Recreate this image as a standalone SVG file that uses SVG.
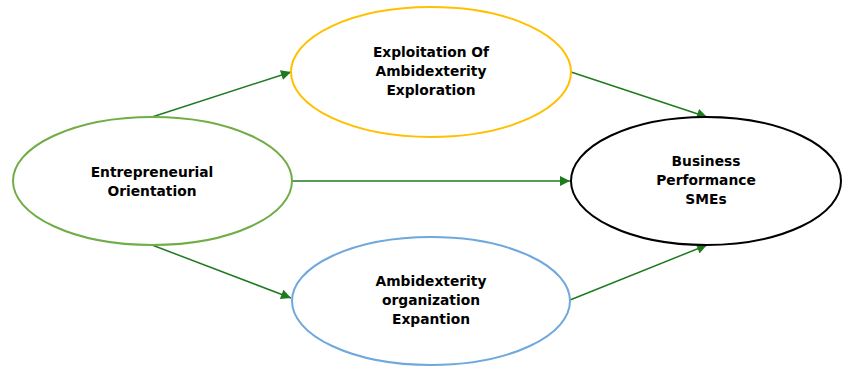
<svg xmlns="http://www.w3.org/2000/svg" width="842" height="368" viewBox="0 0 842 368">
<style>
.node{fill:#fff;stroke-width:2}
.lbl{font-family:"DejaVu Sans",Verdana,sans-serif;font-weight:bold;font-size:13.8px;fill:#000;text-anchor:middle}
.edge{stroke:#1f7a1f;stroke-width:1.5;fill:none;marker-end:url(#arr)}
</style>
<defs>
<marker id="arr" viewBox="0 0 10 10" refX="10" refY="5" markerWidth="12" markerHeight="10" markerUnits="userSpaceOnUse" orient="auto">
<path d="M0,0 L10,5 L0,10 z" fill="#1f7a1f"/>
</marker>
</defs>
<rect width="842" height="368" fill="#fff"/>
<g id="connectors">
<line class="edge" x1="152" y1="117" x2="291" y2="72"/>
<line class="edge" x1="571" y1="72" x2="707" y2="117"/>
<line class="edge" x1="292" y1="181" x2="570" y2="181"/>
<line class="edge" x1="152" y1="245" x2="291" y2="298"/>
<line class="edge" x1="570" y1="300" x2="707" y2="245"/>
</g>
<g id="eo">
<ellipse class="node" cx="152.5" cy="181" rx="139.5" ry="64" stroke="#70ad47"/>
<text class="lbl" x="152" y="177">Entrepreneurial</text>
<text class="lbl" x="152" y="196">Orientation</text>
</g>
<g id="exploit">
<ellipse class="node" cx="431" cy="72" rx="140" ry="65" stroke="#ffc000"/>
<text class="lbl" x="431" y="57">Exploitation Of</text>
<text class="lbl" x="431" y="76">Ambidexterity</text>
<text class="lbl" x="431" y="95">Exploration</text>
</g>
<g id="expan">
<ellipse class="node" cx="431" cy="301" rx="139" ry="64" stroke="#6fa8dc"/>
<text class="lbl" x="431" y="286">Ambidexterity</text>
<text class="lbl" x="431" y="305">organization</text>
<text class="lbl" x="431" y="324">Expantion</text>
</g>
<g id="perf">
<ellipse class="node" cx="706" cy="181" rx="135" ry="64" stroke="#000" stroke-width="1.7"/>
<text class="lbl" x="706" y="166">Business</text>
<text class="lbl" x="706" y="185">Performance</text>
<text class="lbl" x="706" y="204">SMEs</text>
</g>
</svg>
